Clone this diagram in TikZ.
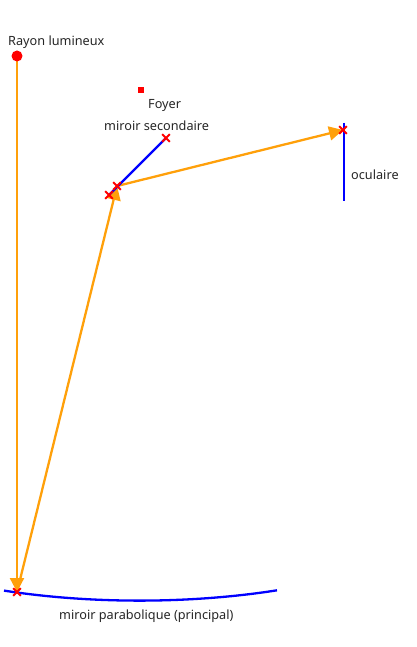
\documentclass[tikz,border=0pt]{standalone}
\usepackage{fontspec}
\setmainfont{Noto Sans}
\usetikzlibrary{arrows.meta}
\tikzset{
  x=1pt,y=-1pt,
  mirror/.style={draw=blue,line width=2.3pt},
  ray/.style={draw=orange1,line width=2.3pt,-{Triangle[length=14pt,width=14pt,fill=orange1]}},
  lbl/.style={font=\fontsize{12.7pt}{14pt}\selectfont,text=black!85,inner sep=0pt,anchor=base west},
  crossmark/.style={draw=red,line width=2pt,line cap=butt},
}
\definecolor{orange1}{RGB}{255,160,10}
\newcommand{\crossat}[1]{\draw[crossmark] ([shift={(-3.8,-3.8)}]#1) -- ([shift={(3.8,3.8)}]#1) ([shift={(-3.8,3.8)}]#1) -- ([shift={(3.8,-3.8)}]#1);}
\begin{document}
\begin{tikzpicture}
\useasboundingbox (0,0) rectangle (416,647);
\coordinate (src) at (17,56);
\coordinate (prim) at (17,592);
\coordinate (secA) at (109,195);
\coordinate (secB) at (117,186);
\coordinate (secC) at (166,138);
\coordinate (ocu) at (343,130);
\coordinate (ocuT) at (344,123);
\coordinate (ocuB) at (344,201);
% rays
\draw[ray] (src) -- (prim);
\draw[ray] (prim) -- (secB);
\draw[ray] (secB) -- (ocu);
% mirrors
\draw[mirror] (4,590.6) .. controls (90,604) and (190,604) .. (277,590.3);
\draw[mirror] (secA) -- (secC);
\draw[mirror] (ocuT) -- (ocuB);
% marks
\node[circle,fill=red,minimum size=11pt,inner sep=0pt] (source) at (src) {};
\node[rectangle,fill=red,minimum size=6pt,inner sep=0pt] (foyer) at (141,90) {};
\crossat{prim}
\crossat{secA}
\crossat{secB}
\crossat{secC}
\crossat{ocu}
% labels
\node[lbl] (l1) at (8,45.5) {Rayon lumineux};
\node[lbl] (l2) at (148,108.5) {Foyer};
\node[lbl] (l3) at (104,130.5) {miroir secondaire};
\node[lbl] (l4) at (351,179) {oculaire};
\node[lbl] (l5) at (59,619) {miroir parabolique (principal)};
\end{tikzpicture}
\end{document}
